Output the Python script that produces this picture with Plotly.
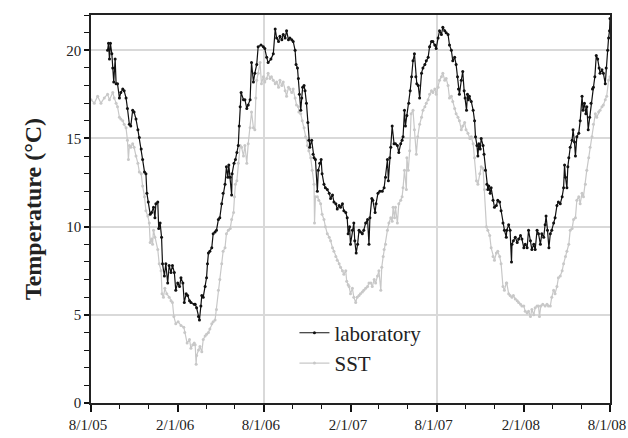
import pandas as pd
import plotly.graph_objects as go

# days since 8/1/05 and temperatures (°C)
lab_days = [35, 37, 39, 41, 44, 46, 48, 51, 53, 56, 60, 63, 67, 70, 74, 77, 81, 84, 88, 91,
            95, 99, 102, 106, 109, 113, 116, 118, 121, 125, 128, 132, 135, 137, 141, 143, 146, 149, 151, 155,
            158, 162, 165, 169, 172, 176, 179, 183, 187, 190, 194, 197, 201, 204, 208, 211, 218,
            220, 223, 227, 229, 232, 234, 237, 241, 244, 246, 248, 251, 255, 258, 262, 265, 269, 272, 276,
            279, 283, 286, 289, 291, 294, 297, 298, 302, 305, 308, 311, 313, 315, 317, 322, 325, 329, 332,
            336, 339, 343, 346, 350, 353, 359, 364, 367, 371, 374, 380, 385, 389, 392, 396, 399, 403, 406,
            410, 413, 417, 420, 424, 427, 431, 433, 436, 438, 440, 443, 445, 447, 450, 452, 455, 458, 460,
            462, 466, 469, 471, 474, 478, 480, 483, 486, 488, 492, 495, 499, 503, 506, 510, 513, 517, 520,
            524, 527, 531, 534, 538, 541, 543, 546, 548, 552, 555, 557, 560, 563, 566, 569, 573, 576, 580,
            584, 587, 589, 593, 595, 600, 602, 606, 610, 615, 619, 622, 626, 628, 631, 633, 636, 640, 643,
            647, 650, 654, 657,
            659, 662, 664, 667, 671, 674, 677, 680, 683, 686, 688, 691, 694, 698, 701, 705, 708, 712, 715,
            719, 722, 726, 729, 733, 736, 740, 743, 747, 750, 754, 757, 761, 764, 768, 771, 774, 776, 778,
            782, 785, 788, 790, 793, 795, 797, 799, 803, 807, 810, 812, 815, 817, 819, 822, 824, 828, 830,
            833, 836, 838, 840, 843, 845, 849, 852, 856, 859, 863, 866, 870, 873, 877,
            878, 882, 885, 888, 889, 892, 896, 900, 903, 907, 910, 914, 917, 921, 924, 928, 931, 935, 938,
            942, 945, 949, 952, 956, 959, 961, 964, 967, 970, 973, 977, 980, 984, 987, 991, 995, 998, 1000,
            1002, 1005, 1007, 1009, 1012, 1016, 1018, 1021, 1023, 1026, 1030, 1033, 1037, 1039, 1042, 1045,
            1047, 1050, 1053, 1056, 1059, 1061, 1064, 1067, 1070, 1073, 1075, 1079, 1082, 1086, 1088, 1091,
            1093, 1095, 1096]
lab_temp = [20.0, 20.4, 19.5, 20.4, 19.8, 19.0, 18.2, 19.5, 18.1, 18.1, 17.3, 17.6, 17.8, 17.7, 17.3, 16.7,
            15.8, 15.7, 16.6, 16.5, 16.1, 15.5, 15.05, 14.4, 13.8, 13.1, 13.0, 11.9, 11.4, 10.7, 10.8, 11.1,
            10.5, 11.3, 11.4, 9.9, 10.2, 9.4, 7.9, 7.2, 7.9, 6.8, 7.8, 7.4, 7.8, 7.4, 6.4, 6.8, 6.6, 7.1,
            6.8, 5.7, 6.2, 6.1, 5.8, 5.7, 5.6,
            5.6, 5.4, 4.9, 4.7, 5.5, 6.1, 6.0, 6.6, 7.1, 7.9, 8.5, 8.6, 8.8, 9.6, 9.7, 9.8, 10.4, 10.5,
            11.3, 11.9, 12.4, 13.4, 12.8, 13.5, 12.8, 11.8, 13.0, 13.6, 13.8, 14.2, 14.6, 15.7, 16.8, 17.6,
            17.2, 17.2, 16.7, 16.9, 17.2, 19.3, 18.2, 18.7, 19.2, 20.2, 20.3, 20.2, 20.1, 19.6, 19.3, 19.5,
            19.8, 21.2, 20.7, 20.5, 20.8, 20.6, 20.9, 20.7, 21.1, 20.6, 20.7, 20.6, 20.5, 20.0, 19.2, 19.0,
            18.4, 17.5, 16.6, 17.3, 17.9, 18.0, 17.7, 17.0, 15.9, 14.9, 14.5, 14.9, 14.1, 13.9, 13.8, 12.0,
            13.2, 13.6, 13.8, 13.0, 12.4, 12.2, 12.1, 11.9, 11.6, 11.8, 11.4, 11.3, 11.0, 11.2, 11.1, 11.3,
            10.9, 10.8, 10.5, 9.6, 10.0, 9.0, 9.8, 10.2, 9.2, 8.5, 9.0, 9.8, 9.7, 9.6, 9.8, 10.2, 10.4, 9.0,
            10.5, 11.6, 11.5, 10.8, 11.3, 11.9, 12.0, 12.0, 12.2, 12.8, 13.8, 12.6, 13.9, 14.5, 15.7, 14.7,
            14.7, 14.6, 14.2, 14.7, 14.9,
            15.1, 16.6, 15.7, 16.3, 17.0, 17.7, 18.5, 19.4, 19.8, 18.5, 18.1, 18.0, 17.3, 18.7, 19.0, 19.2,
            19.4, 19.6, 20.2, 20.5, 20.5, 20.3, 20.1, 20.7, 21.1, 20.9, 21.3, 21.1, 21.0, 20.9, 20.3, 20.0,
            19.4, 19.6, 19.2, 18.5, 17.8, 17.5, 18.3, 18.8, 17.7, 17.3, 16.6, 17.5, 17.2, 17.4, 17.1, 16.6,
            16.0, 15.1, 14.6, 14.0, 14.7, 14.4, 15.0, 14.6, 14.1, 13.2, 12.4, 12.1, 12.3, 11.9, 12.2, 11.5,
            11.1, 11.2, 11.5, 11.4, 10.9, 10.2, 9.8, 9.4,
            9.8, 10.1, 9.8, 8.0, 9.0, 9.2, 9.4, 9.1, 9.3, 9.5, 9.3, 8.8, 9.0, 8.8, 9.8, 9.2, 8.7, 9.0, 8.7,
            9.8, 9.6, 9.0, 9.6, 9.4, 10.1, 10.6, 9.8, 8.8, 9.6, 9.8, 10.2, 10.5, 11.2, 11.4, 11.3, 11.7,
            12.2, 13.5, 12.8, 12.2, 13.4, 13.9, 14.5, 14.9, 15.5, 14.8, 14.0, 15.1, 15.3, 16.0, 17.4, 16.6,
            17.0, 16.4, 16.8, 15.5, 16.2, 17.0, 17.8, 17.9, 18.5, 19.7, 19.5, 19.0, 18.7, 18.9, 18.7, 18.1,
            19.0, 20.0, 20.7, 21.1, 21.8]

sst_days = [0, 7, 14, 21, 28, 35, 39, 46, 49, 53, 56, 60, 63, 67, 70, 74, 77, 79, 81, 84, 88, 91, 95,
            99, 102, 106, 109, 113, 116, 120, 123, 125, 128, 130, 132, 135, 141, 144, 148, 150, 153, 156,
            160, 165, 169, 172, 175, 179, 184, 190, 196, 198, 203, 208, 211, 215, 218,
            220, 222, 223, 227, 230, 234, 237, 241, 244, 248, 251, 255, 258, 262, 265, 269, 272, 276, 279,
            283, 286, 290, 294, 297, 301, 303, 305, 308, 311, 315, 318, 322, 325, 329, 332, 336, 339, 343,
            346, 348, 350, 353, 357, 360, 364, 367, 371, 374, 378, 381, 385, 389, 392, 396, 399, 403, 406,
            410, 413, 417, 420, 424, 427, 431, 434, 438,
            439, 443, 446, 450, 453, 457, 460, 464, 467, 471, 472, 474, 478, 481, 485, 488, 492, 495, 499,
            503, 506, 510, 513, 517, 520, 524, 527, 531, 534, 538, 540, 543, 545, 548, 552, 555, 559, 562,
            566, 569, 573, 576, 580, 584, 587, 591, 594, 598, 601, 605, 608, 612, 614, 617, 619, 622, 626,
            629, 633, 636, 638, 641, 643, 647, 650, 654, 657,
            659, 662, 666, 667, 670, 673, 676, 680, 683, 687, 690, 694, 698, 701, 705, 708, 712, 715, 719,
            722, 726, 729, 733, 736, 740, 743, 747, 750, 754, 757, 761, 764, 768, 771, 775, 778, 782, 785,
            789, 792, 796, 800, 803, 807, 810, 814, 817, 821, 824, 828, 831, 835, 838, 842, 845, 849, 852,
            856, 859, 863, 866, 870, 873, 877,
            878, 882, 885, 889, 892, 896, 900, 903, 907, 910, 914, 917, 921, 924, 928, 931, 935, 938, 942,
            945, 947, 950, 954, 959, 963, 966, 970, 973, 977, 980, 984, 987, 991, 995, 998, 1002, 1005,
            1009, 1012, 1016, 1019, 1023, 1026, 1030, 1033, 1037, 1040, 1044, 1047, 1051, 1054, 1058, 1061,
            1065, 1068, 1072, 1075, 1079, 1082, 1086, 1089, 1093, 1096]
sst_temp = [17.2, 17.0, 17.4, 17.0, 17.3, 17.5, 17.2, 17.6, 17.3, 17.0, 16.8, 16.2, 16.1, 16.0, 15.8,
            15.6, 14.9, 13.8, 14.6, 14.5, 14.7, 14.5, 14.0, 13.6, 13.1, 13.0, 12.3, 11.7, 10.9, 10.6, 10.2,
            9.1, 9.3, 9.0, 9.8, 9.4, 8.7, 7.9, 7.5, 6.2, 6.0, 6.5, 6.2, 6.0, 5.8, 5.7, 4.9, 4.5, 4.6, 4.4,
            4.3, 4.0, 3.4, 3.6, 3.1, 3.3, 3.4,
            3.3, 2.2, 2.7, 3.0, 3.2, 2.9, 3.6, 3.8, 3.9, 4.0, 4.2, 4.5, 4.6, 4.7, 5.3, 6.4, 7.0, 7.9, 8.6,
            8.8, 9.6, 9.8, 9.9, 10.4, 10.8, 11.7, 12.4, 12.6, 13.6, 14.6, 14.5, 14.0, 14.6, 13.6, 14.7,
            15.6, 16.5, 15.6, 15.5, 17.3, 18.3, 18.7, 19.3, 18.1, 18.5, 18.2, 18.4, 18.7, 18.4, 18.5, 18.3,
            18.1, 18.2, 17.9, 18.3, 18.0, 18.2, 17.7, 17.4, 17.9, 17.8, 17.6, 17.8, 17.3, 16.9, 16.8,
            16.5, 16.4, 16.0, 15.6, 15.1, 14.6, 14.3, 13.9, 13.2, 12.4, 10.2, 11.7, 11.7, 11.5, 11.3, 10.7,
            10.4, 10.0, 9.6, 9.4, 9.2, 8.8, 8.6, 8.3, 8.1, 7.9, 7.7, 7.5, 7.3, 7.5, 6.9, 6.7, 6.6, 6.2,
            6.5, 6.0, 5.7, 6.0, 6.1, 6.2, 6.3, 6.4, 6.5, 6.6, 6.8, 6.8, 6.6, 7.0, 6.8, 7.2, 7.5, 6.4, 7.7,
            8.3, 8.7, 9.0, 9.8, 10.2, 10.5, 10.3, 11.1, 10.5, 11.1, 10.2, 11.3, 11.5, 11.7,
            12.2, 13.2, 12.1, 13.9, 13.2, 14.3, 16.4, 16.6, 15.5, 14.1, 15.1, 15.8, 16.2, 16.6, 16.8, 17.0,
            17.2, 17.5, 17.7, 17.6, 17.8, 17.5, 17.9, 18.3, 18.5, 18.7, 18.3, 18.4, 18.0, 17.3, 17.4, 17.1,
            16.7, 16.4, 16.2, 16.0, 15.5, 15.7, 15.9, 15.5, 15.3, 15.0, 15.1, 14.7, 13.9, 12.6, 12.4, 13.0,
            13.4, 13.3, 12.1, 10.0, 9.8, 9.5, 8.8, 8.3, 8.1, 8.5, 8.6, 8.3, 7.9, 6.6, 6.4, 6.8,
            6.8, 6.2, 6.1, 6.0, 6.1, 5.9, 5.8, 5.7, 5.6, 5.5, 5.5, 5.2, 5.1, 5.2, 4.9, 5.3, 5.0, 5.4, 5.5,
            5.5, 4.9, 5.5, 5.6, 5.5, 5.6, 5.5, 5.5, 6.0, 6.4, 6.2, 6.6, 7.1, 7.2, 7.5, 7.9, 8.3, 8.6, 9.0,
            9.8, 9.9, 10.4, 10.5, 11.5, 11.7, 11.3, 11.9, 11.7, 12.4, 13.2, 13.9, 14.5, 15.1, 15.8, 16.4,
            16.2, 16.5, 16.6, 16.8, 16.9, 17.2, 17.4, 18.3, 18.5]

start = pd.Timestamp("2005-08-01")
lab_dates = start + pd.to_timedelta(lab_days, unit="D")
sst_dates = start + pd.to_timedelta(sst_days, unit="D")

tick_dates = ["2005-08-01", "2006-02-01", "2006-08-01", "2007-02-01",
              "2007-08-01", "2008-02-01", "2008-08-01"]
tick_labels = ["8/1/05", "2/1/06", "8/1/06", "2/1/07", "8/1/07", "2/1/08", "8/1/08"]

FONT = "Liberation Serif"

fig = go.Figure()
fig.add_trace(go.Scatter(x=sst_dates, y=sst_temp, name="SST", mode="lines+markers",
                         line=dict(color="#c8c8c8", width=1.2),
                         marker=dict(size=3, color="#c8c8c8")))
fig.add_trace(go.Scatter(x=lab_dates, y=lab_temp, name="laboratory", mode="lines+markers",
                         line=dict(color="#111111", width=1.2),
                         marker=dict(size=3, color="#111111")))
# invisible trace on overlay axis to carry yearly vertical gridlines
fig.add_trace(go.Scatter(x=[tick_dates[0], tick_dates[-1]], y=[None, None], xaxis="x2",
                         showlegend=False, hoverinfo="skip"))

fig.update_layout(
    width=628, height=438,
    margin=dict(l=91, r=18, t=15, b=35, autoexpand=False),
    paper_bgcolor="white", plot_bgcolor="white",
    font=dict(family=FONT, size=15, color="#222"),
    legend=dict(x=0.392, y=0.233, xanchor="left", yanchor="top", traceorder="reversed",
                bgcolor="rgba(0,0,0,0)", font=dict(family=FONT, size=21, color="#222")),
    xaxis=dict(type="date", range=[tick_dates[0], tick_dates[-1]],
               tickmode="array", tickvals=tick_dates, ticktext=tick_labels,
               ticks="outside", ticklen=7, tickwidth=1.5, tickcolor="#111",
               ticklabeloverflow="allow", ticklabelshift=-3, automargin=False,
               showgrid=False, zeroline=False,
               showline=True, linecolor="#222", linewidth=1.5, mirror=True,
               minor=dict(dtick="M2", tick0="2005-08-01", ticks="outside", ticklen=4,
                          tickwidth=1, tickcolor="#111", showgrid=False),
               tickfont=dict(family=FONT, size=15, color="#222"), layer="below traces"),
    xaxis2=dict(type="date", overlaying="x", range=[tick_dates[0], tick_dates[-1]],
                tick0="2005-08-01", dtick="M12", showgrid=True, gridcolor="#d9d9d9",
                gridwidth=1.5, showticklabels=False, ticks="", showline=False, zeroline=False,
                automargin=False, layer="below traces"),
    yaxis=dict(range=[0, 22], dtick=5, tick0=0, ticks="outside", ticklen=5, tickwidth=1.5,
               tickcolor="#111", showgrid=True, gridcolor="#d9d9d9", gridwidth=1.5,
               zeroline=False, showline=True, linecolor="#222", linewidth=1.5, mirror=True,
               automargin=False,
               minor=dict(dtick=1, tick0=0, ticks="outside", ticklen=5, tickwidth=1,
                          tickcolor="#111", showgrid=False),
               title=dict(text="<b>Temperature (°C)</b>", font=dict(family=FONT, size=24, color="#222"),
                          standoff=18),
               tickfont=dict(family=FONT, size=15, color="#222")),
)

fig.write_html("out.html")
